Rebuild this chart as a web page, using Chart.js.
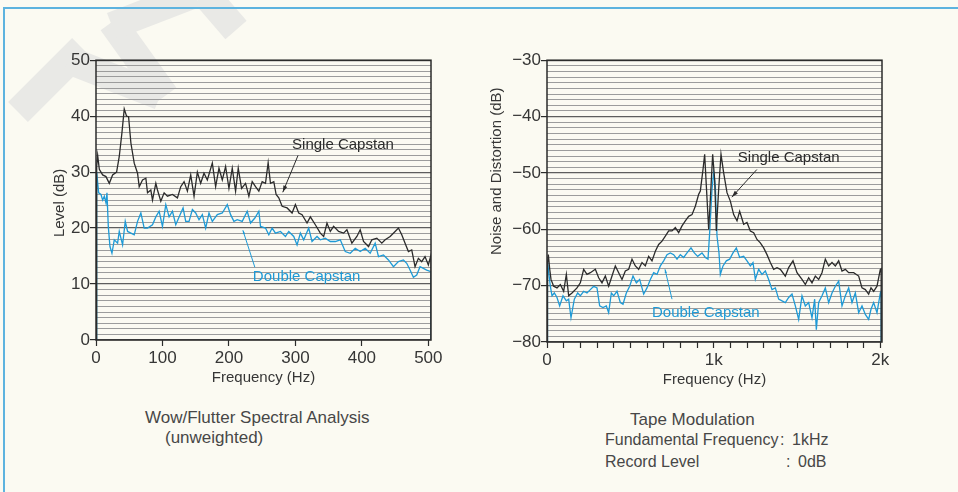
<!DOCTYPE html>
<html>
<head>
<meta charset="utf-8">
<script src="https://cdn.jsdelivr.net/npm/chart.js@4"></script>
<style>
  html, body { margin: 0; padding: 0; }
  body { width: 958px; height: 492px; background: #fbfaf2; position: relative; overflow: hidden; font-family: "Liberation Sans", Arial, sans-serif; }
  .page-edge { position: absolute; left: 3px; top: 7px; right: -10px; bottom: -10px; border-top: 2px solid #5db3df; border-left: 2px solid #5db3df; }
  .wm { position: absolute; left: 0; top: 0; }
  .box { position: absolute; }
  #wowBox { left: 40px; top: 50px; width: 420px; height: 345px; }
  #tapeBox { left: 480px; top: 50px; width: 430px; height: 347px; }
  .cap { position: absolute; font-family: "Liberation Sans", Arial, sans-serif; font-size: 17px; color: #474747; white-space: pre; line-height: 20px; }
  .cap.sm { font-size: 16px; }
</style>
</head>
<body>
<svg class="wm" width="260" height="130">
  <g stroke="#e9e9e6" stroke-width="28" fill="none">
    <line x1="18" y1="112" x2="82" y2="48"/>
    <line x1="68" y1="60" x2="160" y2="96"/>
    <line x1="112" y1="22" x2="165" y2="96"/>
    <line x1="112" y1="26" x2="195" y2="-6"/>
    <line x1="205" y1="-6" x2="236" y2="30"/>
  </g>
</svg>
<div class="page-edge"></div>

<div class="box" id="wowBox"><canvas id="wowChart"></canvas></div>
<div class="box" id="tapeBox"><canvas id="tapeChart"></canvas></div>

<div class="cap" style="left:145px; top:408px;">Wow/Flutter Spectral Analysis</div>
<div class="cap" style="left:165px; top:428px;">(unweighted)</div>
<div class="cap" style="left:630px; top:410px;">Tape Modulation</div>
<div class="cap sm" style="left:605px; top:430px;">Fundamental Frequency</div>
<div class="cap sm" style="left:780px; top:430px;">:</div>
<div class="cap sm" style="left:792px; top:430px;">1kHz</div>
<div class="cap sm" style="left:605px; top:452px;">Record Level</div>
<div class="cap sm" style="left:786px; top:452px;">:</div>
<div class="cap sm" style="left:798px; top:452px;">0dB</div>

<script>
// wow / flutter spectrum, [Hz, dB]
const wowSingle = [[0,0],[1,31],[2.5,33],[5,30.5],[10,29.5],[15,29.2],[20,28],[25,29.5],[31,30],[35,32.8],[39,37],[42.5,41.3],[46,40],[49,39.9],[52.5,35.2],[57.5,31.6],[62.5,29.8],[65,27.4],[70,28.6],[75,28.9],[77.5,26.3],[82.5,26.8],[85,25],[90,28],[92.5,26.8],[97.5,24.8],[102.5,26.3],[107.5,25.7],[115,26],[122.5,25.4],[127.5,27.4],[132.5,28.3],[137.5,26.6],[142.5,29.5],[147.5,25.7],[152.5,30],[157.5,28],[162.5,29.8],[167.5,28.6],[175,31.6],[180,27.4],[185,30.7],[190,28.6],[195,31],[200,27.1],[205,30.7],[210,26.6],[214,30.7],[219,27.1],[225,28],[230,25.7],[235,28.3],[240,27.4],[245,26.6],[250,28.3],[255,28],[259,31.7],[262.5,28],[267.5,28.3],[271,26],[275,25.4],[280,23.9],[287.5,23.6],[295,22.7],[300,24.2],[305,22.7],[310,22.4],[317.5,20.9],[322.5,22],[330,20.6],[337.5,19.1],[342.5,18.5],[347.5,20.9],[352.5,19.4],[357.5,20.3],[365,19.4],[372.5,19.1],[377.5,19.7],[385,17.3],[392.5,18.5],[397.5,19.7],[402.5,17.6],[410,16.7],[415,17.9],[422.5,18.2],[430,17.3],[435,17.9],[442.5,18.5],[450,19.4],[455,20],[460,18.8],[465,17.3],[470,15.8],[475,16.1],[480,13.1],[485,14.6],[490,14],[495,14.9],[500,13.4],[504,15.2],[504,0]];
const wowDouble = [[0,0],[1,30],[4,26.3],[7.5,26],[10,25],[12.5,25.7],[15,24.5],[16.5,26.3],[18.5,20.3],[21,16.7],[24,15.5],[27.5,17.9],[32.5,17.3],[35,19.4],[40,17],[44,21.2],[47.5,19.4],[52.5,19.1],[57.5,18.8],[62.5,21.2],[67.5,22.7],[72.5,20],[77.5,20],[85,20.6],[90,22],[95,23],[100,20.3],[105,24.2],[110,22],[115,23],[120,20.6],[125,22],[131,23.6],[135,21.2],[140,21.2],[145,23.3],[150,22.7],[155,21.5],[160,22.4],[165,20],[170,22.7],[175,21.2],[182.5,22.4],[190,22.7],[197.5,24.2],[202.5,22.4],[207.5,21.2],[212.5,21.5],[220,21.2],[227.5,23],[232.5,20.9],[239,21.8],[245,23],[247.5,20.3],[255,20],[260,18.8],[265,20],[270,19.1],[277.5,19.4],[285,18.5],[290,19.4],[297.5,18.5],[302.5,17],[307.5,19.1],[312.5,17.9],[320,20],[325,17.6],[332.5,18.5],[337.5,17.9],[345,18.2],[352.5,17.6],[360,17.6],[367.5,17.9],[375,15.8],[382.5,15.5],[390,16.4],[397.5,15.8],[405,16.4],[412.5,15.5],[420,17.3],[425,14.9],[432.5,15.2],[440,14.3],[447.5,13.1],[455,14],[462.5,14.3],[467.5,13.7],[472.5,12.5],[477.5,11.2],[482.5,11.6],[487.5,13.1],[492.5,12.8],[497.5,12.5],[504,12.2],[504,0]];
const wowXTicks = [0, 100, 200, 300, 400, 500];
const wowYTicks = [0, 10, 20, 30, 40, 50];

// tape modulation spectrum, [Hz, dB]
const tapeSingle = [[0,-80],[3,-66],[8,-64.5],[16,-67],[24,-68.9],[40,-70.1],[60,-70.4],[80,-69.8],[100,-71],[116,-68],[130,-71.8],[150,-71.3],[180,-70.4],[200,-69.5],[220,-67.1],[240,-68],[260,-67.7],[290,-67.1],[310,-68.6],[330,-69.5],[350,-68.3],[370,-70.1],[390,-68.3],[410,-66.5],[430,-67.7],[450,-68.9],[470,-67.4],[490,-67.1],[510,-65.3],[530,-66.5],[550,-67.1],[570,-65.9],[590,-66.5],[610,-64.8],[630,-65.6],[650,-63.9],[670,-62.7],[690,-62.1],[710,-61.2],[730,-60.3],[750,-60.3],[770,-59.7],[790,-60.6],[810,-59.4],[830,-58.5],[850,-57.7],[870,-57.4],[890,-55.9],[910,-53.8],[920,-53.2],[936,-49.4],[946,-46.7],[956,-52.3],[970,-60],[980,-54.7],[994,-46.7],[1006,-51.2],[1016,-60.3],[1030,-52.9],[1044,-46.7],[1060,-50],[1080,-53.5],[1100,-55],[1120,-57.4],[1140,-58.5],[1156,-56.8],[1180,-59.1],[1200,-58.8],[1220,-60.3],[1240,-60.6],[1260,-61.8],[1280,-62.4],[1300,-63.3],[1320,-64.5],[1340,-65.9],[1360,-67.1],[1380,-66.8],[1400,-67.1],[1430,-68.3],[1450,-66.8],[1476,-65.6],[1500,-67.7],[1530,-68.9],[1550,-69.8],[1570,-68.6],[1590,-69.5],[1610,-68.3],[1630,-68.9],[1650,-67.7],[1670,-65.3],[1690,-66.5],[1710,-65.9],[1730,-66.5],[1750,-65.6],[1770,-67.4],[1790,-67.1],[1810,-67.7],[1840,-67.7],[1870,-68.3],[1890,-70.4],[1910,-70.7],[1930,-71.5],[1944,-70.4],[1960,-71],[1980,-70.1],[2000,-67.1],[2005,-67],[2005,-80]];
const tapeDouble = [[0,-80],[3,-67],[6,-66.5],[20,-70.1],[30,-71.8],[44,-71.3],[60,-72.1],[76,-73.6],[96,-71.8],[116,-72.7],[130,-72.4],[144,-75.7],[164,-72.4],[184,-71.3],[200,-71.8],[220,-71],[240,-71.3],[260,-70.7],[280,-70.1],[300,-70.4],[316,-73.6],[336,-73.9],[356,-73.6],[370,-74.8],[386,-71.3],[400,-71.8],[420,-71],[440,-73],[456,-73.3],[476,-71.3],[496,-70.1],[516,-68.3],[536,-69.5],[556,-68.9],[580,-71.5],[600,-70.4],[620,-68.9],[640,-67.7],[660,-68],[680,-66.5],[700,-65.6],[720,-64.5],[740,-64.2],[760,-64.5],[780,-65.3],[800,-64.5],[820,-65],[840,-64.2],[864,-63.3],[884,-64.2],[904,-64.8],[930,-64.2],[950,-65],[966,-65.3],[976,-60.6],[990,-52.9],[1000,-50],[1010,-52.3],[1020,-61.2],[1032,-64.2],[1040,-68],[1056,-66.5],[1076,-65.6],[1096,-65.3],[1116,-64.2],[1136,-63.3],[1156,-65],[1180,-64.8],[1200,-65.6],[1220,-66.5],[1236,-65.9],[1250,-68.9],[1270,-67.1],[1290,-68],[1310,-67.4],[1330,-68.9],[1350,-70.7],[1370,-70.4],[1390,-72.4],[1410,-72.7],[1430,-73],[1450,-72.1],[1470,-71.5],[1490,-73.6],[1510,-76],[1530,-71.8],[1550,-73.6],[1570,-73],[1590,-75.7],[1606,-72.4],[1616,-77.8],[1630,-73],[1650,-71.8],[1670,-70.4],[1690,-73],[1710,-71.3],[1730,-70.1],[1750,-69.2],[1770,-73.6],[1790,-71.8],[1810,-70.4],[1830,-73],[1850,-71.3],[1870,-74.8],[1890,-73.6],[1910,-75.1],[1930,-76],[1944,-74.2],[1960,-73],[1980,-74.8],[2000,-71.3],[2005,-71],[2005,-80]];
const tapeXTicks = [0,100,200,300,400,500,600,700,800,900,1000,1100,1200,1300,1400,1500,1600,1700,1800,1900,2000];
const tapeXLabels = { 0: '0', 1000: '1k', 2000: '2k' };
const tapeYTicks = [-80, -70, -60, -50, -40, -30];

const INK = '#2b2b2b';
const BLUE = '#1e9ad6';
const TEXT = '#363636';
Chart.defaults.font.family = '"Liberation Sans", Arial, sans-serif';

// every 1 dB gets a ruled line, labels only on the tens
function dbLines(min, max) {
  const out = [];
  for (let v = min; v <= max; v++) out.push({ value: v });
  return out;
}

// closed frame round the plot, plus the callout texts/arrows and the side title
const framePlugin = {
  id: 'frame',
  afterDatasetsDraw(chart, args, opts) {
    const { ctx, chartArea: a, scales: { x, y } } = chart;
    ctx.save();
    ctx.strokeStyle = INK;
    ctx.lineWidth = 1.5;
    ctx.strokeRect(a.left, a.top, a.right - a.left, a.bottom - a.top);

    (opts.arrows || []).forEach(ar => {
      const x1 = x.getPixelForValue(ar.from[0]), y1 = y.getPixelForValue(ar.from[1]);
      const x2 = x.getPixelForValue(ar.to[0]), y2 = y.getPixelForValue(ar.to[1]);
      ctx.strokeStyle = ar.color; ctx.fillStyle = ar.color; ctx.lineWidth = 1;
      ctx.beginPath(); ctx.moveTo(x1, y1); ctx.lineTo(x2, y2); ctx.stroke();
      const ang = Math.atan2(y2 - y1, x2 - x1), h = ar.head;
      ctx.beginPath();
      ctx.moveTo(x2, y2);
      ctx.lineTo(x2 - h * Math.cos(ang - 0.3), y2 - h * Math.sin(ang - 0.3));
      ctx.lineTo(x2 - h * Math.cos(ang + 0.3), y2 - h * Math.sin(ang + 0.3));
      ctx.closePath(); ctx.fill();
    });

    ctx.font = '15px "Liberation Sans", Arial, sans-serif';
    ctx.textBaseline = 'middle';
    ctx.textAlign = 'left';
    (opts.labels || []).forEach(l => {
      ctx.fillStyle = l.color;
      ctx.fillText(l.text, x.getPixelForValue(l.at[0]), y.getPixelForValue(l.at[1]));
    });

    if (opts.yTitle) {
      ctx.translate(a.left - opts.yTitle.dx, y.getPixelForValue(opts.yTitle.at));
      ctx.rotate(-Math.PI / 2);
      ctx.textAlign = 'center';
      ctx.fillStyle = TEXT;
      ctx.fillText(opts.yTitle.text, 0, 0);
    }
    ctx.restore();
  }
};

function lineSet(label, pts, color) {
  return {
    label,
    data: pts.map(p => ({ x: p[0], y: p[1] })),
    borderColor: color,
    borderWidth: 1.3,
    pointRadius: 0,
    tension: 0
  };
}

function yScale(min, max, majors, fmt, width) {
  return {
    min, max,
    afterBuildTicks: s => { s.ticks = dbLines(min, max); },
    afterFit: s => { s.width = width; },
    border: { display: false },
    grid: {
      color: c => majors.includes(c.tick.value) ? '#5e5e5e' : '#9c9c9c',
      lineWidth: c => majors.includes(c.tick.value) ? 1.2 : 1,
      tickLength: 6,
      tickColor: c => majors.includes(c.tick.value) ? INK : 'rgba(0,0,0,0)'
    },
    ticks: {
      autoSkip: false,
      padding: 0,
      color: TEXT,
      font: { size: 17 },
      callback: v => majors.includes(v) ? fmt(v) : ''
    }
  };
}

function xScale(min, max, marks, fmt) {
  return {
    type: 'linear',
    min, max,
    afterBuildTicks: s => { s.ticks = marks.map(v => ({ value: v })); },
    afterFit: s => { s.height = 55; },
    border: { display: false },
    grid: { drawOnChartArea: false, tickLength: 6, tickColor: INK, tickWidth: 1.2 },
    ticks: { autoSkip: false, maxRotation: 0, padding: 2, color: TEXT, font: { size: 17 }, callback: fmt },
    title: { display: true, text: 'Frequency (Hz)', color: TEXT, font: { size: 15 }, padding: { top: 0, bottom: 8 } }
  };
}

new Chart(document.getElementById('wowChart'), {
  type: 'line',
  data: { datasets: [lineSet('Single Capstan', wowSingle, INK), lineSet('Double Capstan', wowDouble, BLUE)] },
  plugins: [framePlugin],
  options: {
    responsive: true, maintainAspectRatio: false, animation: false,
    layout: { padding: { top: 10, right: 29, left: 0, bottom: 0 } },
    scales: {
      x: xScale(0, 504, wowXTicks, v => String(v)),
      y: yScale(0, 50, wowYTicks, v => String(v), 56)
    },
    plugins: {
      legend: { display: false },
      tooltip: { enabled: false },
      frame: {
        yTitle: { text: 'Level (dB)', at: 24.5, dx: 36 },
        labels: [
          { text: 'Single Capstan', at: [295, 34.8], color: INK },
          { text: 'Double Capstan', at: [236, 11.3], color: BLUE }
        ],
        arrows: [
          { from: [304, 33], to: [281, 26.4], color: INK, head: 7 },
          { from: [239, 13], to: [221, 19.6], color: BLUE, head: 4 }
        ]
      }
    }
  }
});

new Chart(document.getElementById('tapeChart'), {
  type: 'line',
  data: { datasets: [lineSet('Single Capstan', tapeSingle, INK), lineSet('Double Capstan', tapeDouble, BLUE)] },
  plugins: [framePlugin],
  options: {
    responsive: true, maintainAspectRatio: false, animation: false,
    layout: { padding: { top: 10, right: 28, left: 0, bottom: 0 } },
    scales: {
      x: xScale(0, 2010, tapeXTicks, v => tapeXLabels[v] || ''),
      y: yScale(-80, -30, tapeYTicks, v => '\u2212' + Math.abs(v), 67)
    },
    plugins: {
      legend: { display: false },
      tooltip: { enabled: false },
      frame: {
        yTitle: { text: 'Noise and Distortion (dB)', at: -49.7, dx: 50 },
        labels: [
          { text: 'Single Capstan', at: [1145, -47.25], color: INK },
          { text: 'Double Capstan', at: [630, -74.9], color: BLUE }
        ],
        arrows: [
          { from: [1259, -49.4], to: [1109, -54.3], color: INK, head: 7 },
          { from: [750, -72.4], to: [708, -67.1], color: BLUE, head: 4 }
        ]
      }
    }
  }
});
</script>
</body>
</html>
